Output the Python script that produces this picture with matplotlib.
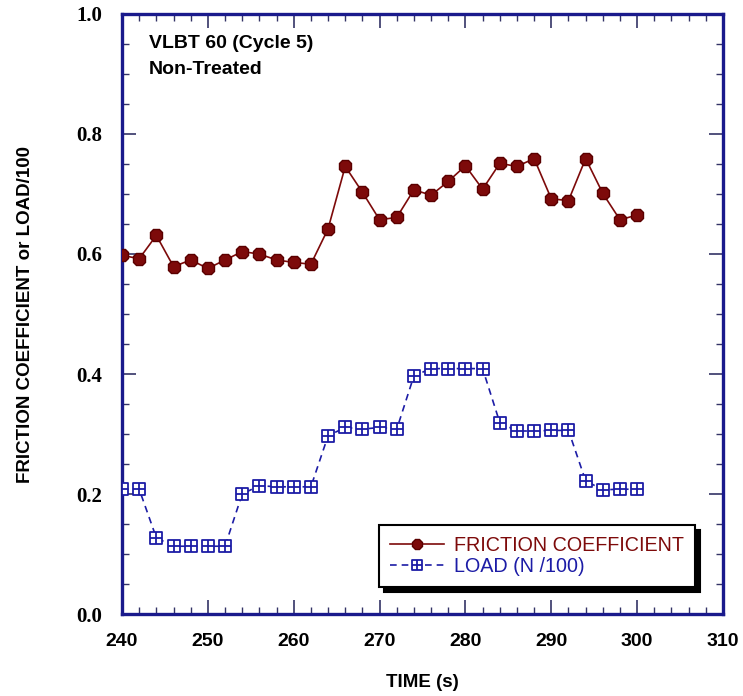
import matplotlib
matplotlib.use("Agg")
import matplotlib.pyplot as plt
from matplotlib.path import Path
from matplotlib.ticker import MultipleLocator

# time (s) for each sample
time_s = [240, 242, 244, 246, 248, 250, 252, 254, 256, 258, 260, 262, 264, 266, 268, 270,
          272, 274, 276, 278, 280, 282, 284, 286, 288, 290, 292, 294, 296, 298, 300]

friction = [0.598, 0.592, 0.631, 0.579, 0.590, 0.576, 0.590, 0.604, 0.600, 0.590, 0.586,
            0.583, 0.642, 0.746, 0.703, 0.657, 0.661, 0.707, 0.698, 0.721, 0.747, 0.708,
            0.751, 0.746, 0.759, 0.692, 0.689, 0.759, 0.701, 0.657, 0.665]

load_n100 = [0.208, 0.208, 0.127, 0.113, 0.113, 0.113, 0.113, 0.200, 0.214, 0.212, 0.212,
             0.212, 0.297, 0.311, 0.308, 0.311, 0.308, 0.397, 0.409, 0.409, 0.409, 0.409,
             0.319, 0.305, 0.305, 0.306, 0.306, 0.222, 0.207, 0.208, 0.208]

MAROON = "#7d0a0a"
BLUE = "#1c1ca6"
SPINE = "#1a1a8c"

# square with a cross inside (boxed plus marker)
box_plus = Path(
    [(-1, -1), (1, -1), (1, 1), (-1, 1), (-1, -1),
     (0, -1), (0, 1), (-1, 0), (1, 0)],
    [Path.MOVETO, Path.LINETO, Path.LINETO, Path.LINETO, Path.CLOSEPOLY,
     Path.MOVETO, Path.LINETO, Path.MOVETO, Path.LINETO],
)

fig = plt.figure(figsize=(7.43, 6.96), dpi=100)
ax = fig.add_axes([0.1642, 0.1178, 0.8089, 0.8621])

ax.plot(time_s, friction, color=MAROON, lw=1.2, marker="8", ms=9.5,
        mfc=MAROON, mec="#5a0000", label="FRICTION COEFFICIENT", zorder=3)
ax.plot(time_s, load_n100, color=BLUE, lw=1.2, ls=(0, (4, 3)), marker=box_plus,
        ms=8, mfc="white", mec=BLUE, mew=1.3, label="LOAD (N /100)", zorder=3)

ax.set_xlim(240, 310)
ax.set_ylim(0.0, 1.0)
ax.xaxis.set_major_locator(MultipleLocator(10))
ax.xaxis.set_minor_locator(MultipleLocator(2))
ax.yaxis.set_major_locator(MultipleLocator(0.2))
ax.yaxis.set_minor_locator(MultipleLocator(0.05))
ax.yaxis.set_major_formatter(plt.FormatStrFormatter("%.1f"))

for sp in ax.spines.values():
    sp.set_color(SPINE)
    sp.set_linewidth(2.4)

ax.tick_params(which="both", direction="in", top=True, right=True, color="#333366")
ax.tick_params(which="major", length=10, width=1.2)
ax.tick_params(which="minor", length=5, width=1.0)
ax.tick_params(axis="y", pad=14)
ax.tick_params(axis="x", pad=14)

for lab in ax.get_yticklabels():
    lab.set_fontfamily("Liberation Serif")
    lab.set_fontweight("bold")
    lab.set_fontsize(15)
for lab in ax.get_xticklabels():
    lab.set_fontfamily("Liberation Sans")
    lab.set_fontweight("bold")
    lab.set_fontsize(14)

ax.set_xlabel("TIME (s)", fontfamily="Liberation Sans",
              fontweight="bold", fontsize=13.5, labelpad=17)
ax.set_ylabel("FRICTION COEFFICIENT or LOAD/100", fontfamily="Liberation Sans",
              fontweight="bold", fontsize=13.5, labelpad=31)

ax.text(0.045, 0.965, "VLBT 60 (Cycle 5)\nNon-Treated", transform=ax.transAxes,
        fontfamily="Liberation Sans", fontweight="bold", fontsize=14,
        va="top", ha="left", linespacing=1.7)

leg = ax.legend(loc="lower right", bbox_to_anchor=(0.953, 0.045), borderaxespad=0,
                frameon=True, fancybox=False,
                shadow={"color": "black", "alpha": 1.0, "ox": 3.5, "oy": -3.5},
                prop={"family": "Liberation Sans", "size": 14.2}, markerscale=0.85,
                handlelength=2.75, handletextpad=0.5, borderpad=0.55, labelspacing=0.1)
leg.get_frame().set_edgecolor("black")
leg.get_frame().set_linewidth(1.5)
for txt, col in zip(leg.get_texts(), [MAROON, BLUE]):
    txt.set_color(col)

fig.savefig("out.png", dpi=100)
